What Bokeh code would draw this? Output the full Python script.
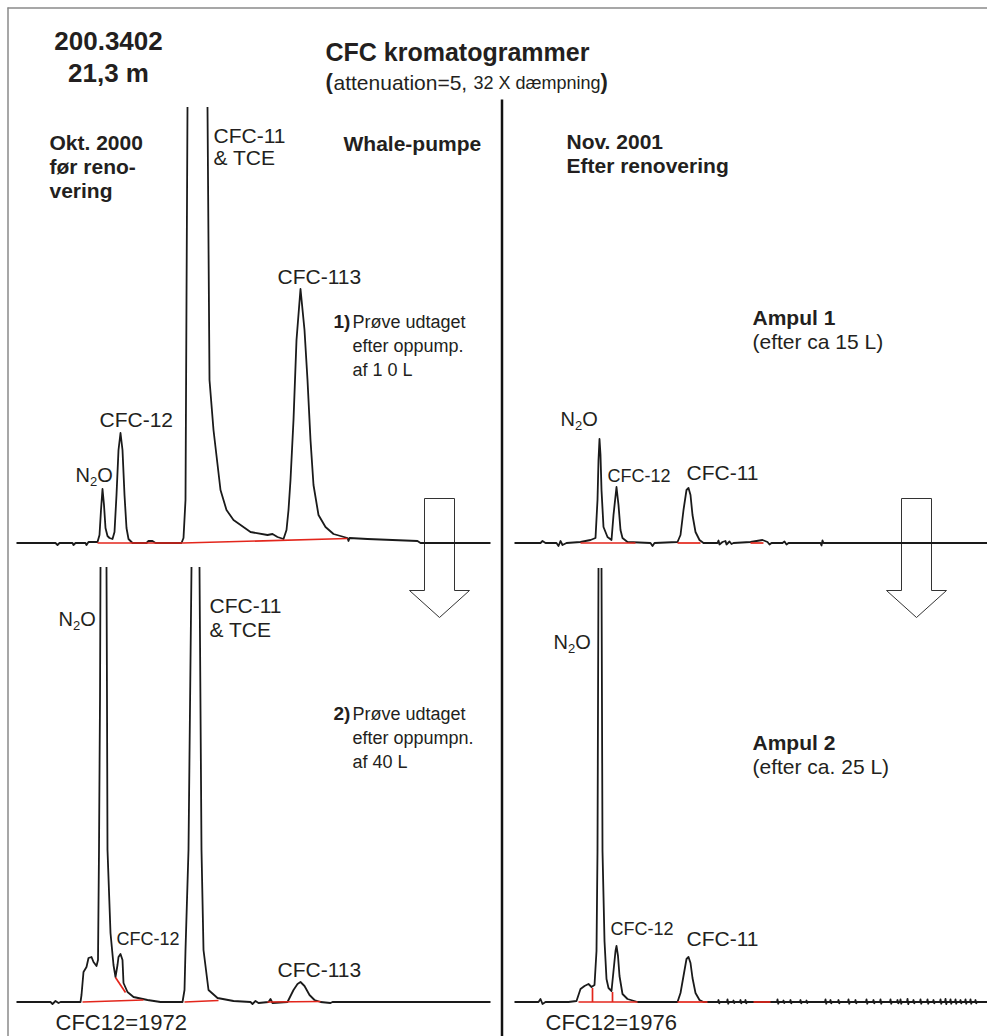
import numpy as np
from bokeh.plotting import figure
from bokeh.models import Range1d
from bokeh.embed import file_html
from bokeh.resources import INLINE
from bokeh.core.properties import value

# ---------------- data: chromatogram traces (time [min], signal [units]) ----------------
# upper left: Okt. 2000, sample 1
tl_trace = [(0, 0), (0.78, 0), (0.82, -0.4), (0.86, 0), (1.12, 0), (1.14, -0.4), (1.18, 0),
            (1.38, 0), (1.40, -0.4), (1.44, 0.2), (1.62, 0.2), (1.66, 1.6), (1.69, 6.6),
            (1.72, 10.8), (1.75, 7.6), (1.78, 3.0), (1.82, 1.4), (1.86, 1.0), (1.92, 0.8),
            (1.96, 2.2), (2.00, 9.6), (2.04, 18.6), (2.08, 22.0), (2.12, 18.6), (2.16, 9.6),
            (2.20, 3.0), (2.24, 0.8), (2.32, 0), (2.60, 0), (2.64, 0.4), (2.72, 0.4), (2.78, 0),
            (3.30, 0), (3.34, 1.0), (3.38, 8.6), (3.40, 48.6), (3.42, 87.2), (3.62, 130),
            (3.82, 87.2), (3.86, 32.6), (3.94, 22.6), (4.08, 10.6), (4.20, 6.6), (4.34, 4.6),
            (4.68, 2.2), (5.02, 1.6), (5.12, 1.8), (5.22, 1.2), (5.34, 0.8), (5.40, 2.6),
            (5.44, 6.6), (5.48, 12.6), (5.54, 24.6), (5.60, 40.6), (5.68, 50.8), (5.76, 42.6),
            (5.82, 32.6), (5.88, 20.6), (5.94, 11.6), (6.04, 5.6), (6.18, 3.2), (6.34, 1.8),
            (6.62, 1.0), (6.64, 0.4), (6.66, 1.0), (7.02, 0.8), (8.02, 0.4), (8.08, 0), (9.48, 0)]

# lower left: Okt. 2000, sample 2
bl_trace = [(0, 0), (0.68, 0), (0.72, -0.4), (0.78, 0.2), (0.84, -0.2), (0.88, 0), (1.28, 0),
            (1.30, 1.4), (1.34, 6.0), (1.40, 7.0), (1.44, 8.8), (1.50, 9.0), (1.54, 8.0),
            (1.60, 7.2), (1.63, 8.4), (1.65, 30.4), (1.67, 60.4), (1.68, 87.0), (1.74, 130),
            (1.80, 87.0), (1.81, 60.4), (1.82, 30.4), (1.88, 13.8), (1.94, 7.4), (1.98, 5.0),
            (2.02, 7.4), (2.04, 9.0), (2.08, 9.6), (2.12, 8.4), (2.14, 3.8), (2.22, 2.0),
            (2.34, 1.0), (2.62, 0.4), (2.88, 0), (3.32, 0), (3.36, 2.4), (3.38, 10.4),
            (3.44, 30.4), (3.50, 87.0), (3.58, 130), (3.66, 87.0), (3.70, 30.4), (3.74, 10.4),
            (3.84, 2.4), (4.02, 0.8), (4.34, 0.2), (4.68, 0), (4.72, -0.4), (4.78, 0.2),
            (4.84, -0.2), (5.04, 0), (5.08, 0.6), (5.12, -0.2), (5.42, 0), (5.54, 2.4),
            (5.62, 3.6), (5.68, 4.0), (5.76, 3.2), (5.86, 1.4), (5.96, 0.4), (6.08, 0),
            (6.28, -0.2), (6.32, 0), (9.48, 0)]

# upper right: Nov. 2001, Ampul 1
tr_trace = [(0.04, 0), (0.56, 0), (0.60, 0.4), (0.66, 0), (0.88, 0), (0.92, -0.6), (0.96, 0.4),
            (1.00, -0.4), (1.08, 0), (1.36, 0.2), (1.56, 0.6), (1.66, 1.0), (1.70, 8.6),
            (1.72, 16.6), (1.74, 20.8), (1.76, 17.6), (1.78, 10.6), (1.82, 3.2), (1.90, 1.2),
            (1.98, 0.6), (2.02, 5.6), (2.08, 11.2), (2.12, 7.6), (2.16, 2.6), (2.20, 1.0),
            (2.30, 0.2), (2.76, 0), (2.80, -0.6), (2.84, 0), (3.30, 0.2), (3.36, 1.6),
            (3.42, 6.6), (3.48, 10.6), (3.52, 11.0), (3.56, 9.6), (3.60, 5.6), (3.66, 2.2),
            (3.74, 0.6), (3.82, 0), (4.10, 0), (4.12, 0.5), (4.14, -0.3), (4.20, 0.2),
            (4.26, 0.4), (4.28, -0.3), (4.34, 0.3), (4.38, -0.2), (4.42, 0), (4.76, 0.2),
            (4.88, 0.4), (5.00, 0.6), (5.10, 0.2), (5.14, -0.3), (5.18, 0), (5.40, 0),
            (5.44, 0.3), (5.48, -0.3), (5.52, 0), (6.16, 0), (6.18, -0.5), (6.20, 0.5),
            (6.22, 0), (9.50, 0)]

# lower right: Nov. 2001, Ampul 2
br_trace = [(0.04, 0), (0.52, 0), (0.56, 0.6), (0.60, -0.4), (0.66, 0), (1.12, 0), (1.28, 0.2),
            (1.32, 1.4), (1.36, 2.6), (1.44, 3.2), (1.52, 3.6), (1.58, 3.0), (1.64, 3.4),
            (1.68, 10.2), (1.70, 30.2), (1.72, 86.8), (1.75, 130), (1.78, 86.8), (1.80, 30.2),
            (1.84, 12.2), (1.88, 4.6), (1.92, 2.8), (1.98, 2.2), (2.02, 6.2), (2.06, 10.2),
            (2.08, 11.2), (2.11, 9.2), (2.14, 5.2), (2.20, 1.6), (2.30, 0.6), (2.50, 0),
            (3.30, 0), (3.36, 1.8), (3.42, 5.2), (3.48, 8.6), (3.52, 9.0), (3.56, 7.8),
            (3.60, 4.8), (3.66, 1.8), (3.74, 0.4), (3.82, 0), (9.50, 0)]
# baseline noise spikes of the lower right trace (time, amplitude)
br_noise_time = [4.12, 4.30, 4.42, 4.56, 4.66, 5.30, 5.42, 5.56, 5.76, 5.88, 6.26, 6.36, 6.52,
                 6.72, 6.86, 7.08, 7.22, 7.36, 7.56, 7.70, 7.76, 7.90, 8.02, 8.16, 8.30, 8.42,
                 8.56, 8.66, 8.76, 8.86, 8.96, 9.06, 9.16, 9.26]
br_noise_amp = [0.4, 0.5, 0.3, 0.4, 0.4, 0.5, 0.3, 0.4, 0.4, 0.3, 0.5, 0.4, 0.4, 0.5, 0.4, 0.5,
                0.4, 0.5, 0.5, 0.4, 0.5, 0.6, 0.4, 0.5, 0.5, 0.4, 0.5, 0.6, 0.5, 0.5, 0.4, 0.5,
                0.5, 0.4]

# integration baselines (t0, s0, t1, s1)
tl_integration = [(1.62, 0, 3.32, 0), (3.32, 0, 6.62, 0.9)]
bl_integration = [(1.32, 0, 2.54, 0.4), (1.98, 4.9, 2.18, 1.9), (3.36, 0, 4.04, 0.3), (5.02, 0, 6.08, 0.1)]
tr_integration = [(1.36, 0, 2.46, 0), (3.30, 0, 3.76, 0), (4.76, 0, 5.02, 0)]
br_integration = [(1.32, 0, 2.50, 0), (1.60, 0, 1.60, 2.8), (2.00, 0, 2.00, 2.0),
                  (3.30, 0, 3.90, 0), (4.82, 0, 5.16, 0)]

OFF_SCALE = 100.0  # signals above this ran off the recorder paper

# ---------------- layout ----------------
W, H = 987, 1036
OX, OY = 0, 0
PX_PER_MIN = 50.0
PX_PER_UNIT = 5.0
TEXT = "#231f20"
TRACE = "#1a1a1a"
RED = "#e3261c"
FONT = "Liberation Sans"

p = figure(width=W, height=H, x_range=Range1d(OX, OX + W), y_range=Range1d(OY + H, OY),
           output_backend="svg", toolbar_location=None, x_axis_type=None, y_axis_type=None,
           min_border=0)
p.grid.visible = False
p.outline_line_color = None
p.background_fill_color = "white"
p.border_fill_color = "white"

# panel origins (page px of t=0, baseline)
panels = {"tl": (16, 542.5), "tr": (512, 542.5), "bl": (16, 1001.5), "br": (512, 1001.5)}
for name, (x0, yb) in panels.items():
    p.extra_x_ranges[name] = Range1d((OX - x0) / PX_PER_MIN, (OX + W - x0) / PX_PER_MIN)
    p.extra_y_ranges[name] = Range1d((yb - (OY + H)) / PX_PER_UNIT, (yb - OY) / PX_PER_UNIT)


def with_noise(trace, times, amps):
    pts = list(trace)
    for t, a in zip(times, amps):
        pts += [(t - 0.01, 0), (t, a), (t + 0.015, -0.7 * a), (t + 0.03, 0)]
    pts.sort(key=lambda q: q[0])
    return pts


traces = {"tl": tl_trace, "bl": bl_trace, "tr": tr_trace,
          "br": with_noise(br_trace, br_noise_time, br_noise_amp)}
integrations = {"tl": tl_integration, "bl": bl_integration, "tr": tr_integration,
                "br": br_integration}

# frame decorations (page coordinates)
p.segment(x0=[7, 7.5], y0=[7.5, 7], x1=[W, 7.5], y1=[7.5, H],
          line_color="#8a8a8a", line_width=1.5)
p.segment(x0=[501.5], y0=[99], x1=[501.5], y1=[H], line_color="#111111", line_width=2.5)

# down arrows
for ax in (439, 916):
    xs = [ax - 15, ax + 15, ax + 15, ax + 30, ax, ax - 30, ax - 15]
    ys = [498, 498, 590, 590, 617, 590, 590]
    p.patch(xs, ys, fill_alpha=0, line_color="#333333", line_width=1)

for name, tr in traces.items():
    t = np.array([q[0] for q in tr], dtype=float)
    s = np.array([q[1] for q in tr], dtype=float)
    s[s > OFF_SCALE] = np.nan
    p.line(t, s, x_range_name=name, y_range_name=name, line_color=TRACE, line_width=1.8,
           line_join="round")
    seg = integrations[name]
    p.segment(x0=[g[0] for g in seg], y0=[g[1] for g in seg], x1=[g[2] for g in seg],
              y1=[g[3] for g in seg], x_range_name=name, y_range_name=name,
              line_color=RED, line_width=1.7)


def label(x, y, txt, size, style="normal", font=FONT, align="left"):
    # y is the wanted text baseline; the text is placed by its middle
    p.text(x=[x], y=[y - 0.35 * size], text=[txt], text_font=value(font),
           text_font_size=value(f"{size}px"), text_font_style=style, text_align=align,
           text_baseline="middle", text_color=TEXT)


def n2o(x, y, size=20):
    label(x, y, "N", size)
    label(x + 0.722 * size, y + 5, "2", round(size * 0.65))
    label(x + 0.722 * size + 0.556 * size * 0.65, y, "O", size)


# header
label(108, 50, "200.3402", 26, "bold", align="center")
label(108, 82, "21,3 m", 26, "bold", align="center")
label(325, 60, "CFC kromatogrammer", 25, "bold")
label(325, 89, "(", 22, "bold")
label(333, 89, "attenuation=5,", 21)
label(473, 89, "32 X dæmpning", 18)
label(600, 89, ")", 22, "bold")

# upper left
for i, line in enumerate(["Okt. 2000", "før reno-", "vering"]):
    label(49, 149 + 24 * i, line, 21, "bold")
label(213, 142, "CFC-11", 21)
label(213, 164, "& TCE", 21)
label(343, 150, "Whale-pumpe", 21, "bold")
label(99, 426, "CFC-12", 21)
n2o(75, 481)
label(277, 283, "CFC-113", 21)
label(333, 328, "1)", 19, "bold")
label(352, 328, "Prøve udtaget", 18)
label(352, 352, "efter oppump.", 18)
label(352, 376, "af 1 0 L", 18)

# upper right
label(566, 148, "Nov. 2001", 21, "bold")
label(566, 172, "Efter renovering", 21, "bold")
n2o(560, 425)
label(607, 482, "CFC-12", 18)
label(686, 479, "CFC-11", 21)
label(752, 324, "Ampul 1", 21, "bold")
label(752, 348, "(efter ca 15 L)", 21)

# lower left
n2o(58, 625)
label(209, 612, "CFC-11", 21)
label(209, 636, "& TCE", 21)
label(333, 720, "2)", 19, "bold")
label(352, 720, "Prøve udtaget", 18)
label(352, 744, "efter oppumpn.", 18)
label(352, 768, "af 40 L", 18)
label(116, 945, "CFC-12", 18)
label(277, 976, "CFC-113", 21)
label(55, 1030, "CFC12=1972", 22)

# lower right
n2o(553, 648)
label(610, 935, "CFC-12", 18)
label(686, 945, "CFC-11", 21)
label(752, 749, "Ampul 2", 21, "bold")
label(752, 773, "(efter ca. 25 L)", 21)
label(545, 1030, "CFC12=1976", 22)

open("out.html", "w").write(file_html(p, INLINE))
